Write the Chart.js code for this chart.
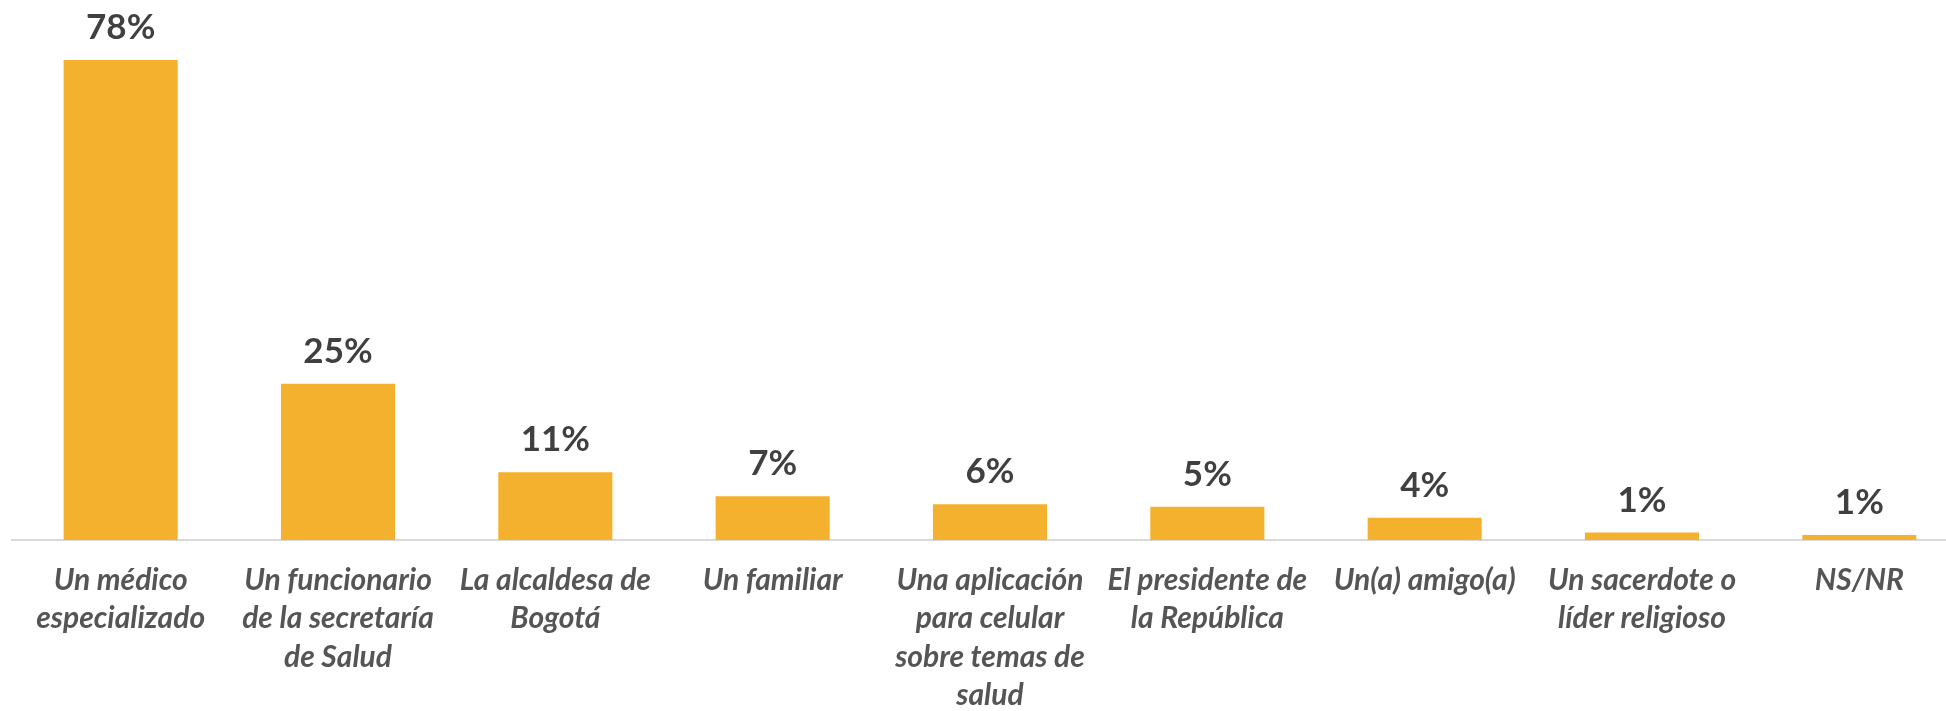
<!DOCTYPE html>
<html>
<head>
<meta charset="utf-8">
<script src="https://cdn.jsdelivr.net/npm/chart.js@4.4.0/dist/chart.umd.min.js"></script>
<style>
  html, body { margin: 0; padding: 0; background: #fff; overflow: hidden; }
  #wrap { width: 1968px; height: 711px; position: relative; }
</style>
</head>
<body>
<div id="wrap"><canvas id="bar-chart"></canvas></div>
<script>
var categories = [
    ["Un médico", "especializado"],
    ["Un funcionario", "de la secretaría", "de Salud"],
    ["La alcaldesa de", "Bogotá"],
    ["Un familiar"],
    ["Una aplicación", "para celular", "sobre temas de", "salud"],
    ["El presidente de", "la República"],
    ["Un(a) amigo(a)"],
    ["Un sacerdote o", "líder religioso"],
    ["NS/NR"]
];
var values = [78, 25.4, 11, 7.1, 5.8, 5.4, 3.6, 1.2, 0.8];

// value labels above each bar
var barLabels = {
    id: 'barLabels',
    afterDatasetsDraw: function(chart) {
        var ctx = chart.ctx;
        var meta = chart.getDatasetMeta(0);
        ctx.save();
        ctx.fillStyle = '#404040';
        ctx.font = 'bold 35px Lato';
        ctx.textAlign = 'center';
        ctx.textBaseline = 'alphabetic';
        meta.data.forEach(function(bar, i) {
            ctx.fillText(Math.round(values[i]) + '%', bar.x, bar.y - 21);
        });
        ctx.restore();
    }
};

new Chart(document.getElementById("bar-chart"), {
    type: 'bar',
    data: {
        labels: categories,
        datasets: [{
            backgroundColor: '#F4B12D',
            data: values,
            categoryPercentage: 1,
            barPercentage: 0.525
        }]
    },
    options: {
        responsive: true,
        maintainAspectRatio: false,
        animation: false,
        layout: { padding: { left: 12, right: 0, top: 20, bottom: 0 } },
        plugins: {
            legend: { display: false },
            title: { display: false },
            tooltip: { enabled: false }
        },
        scales: {
            y: {
                display: false,
                min: 0,
                max: 84.5
            },
            x: {
                grid: { display: false, drawTicks: false },
                border: { display: true, color: '#D9D9D9', width: 2 },
                ticks: {
                    color: '#555555',
                    font: { family: 'Lato', size: 30, style: 'italic', weight: 'bold', lineHeight: 1.283 },
                    padding: 21,
                    maxRotation: 0,
                    autoSkip: false
                },
                afterFit: function(scale) { scale.height = 171; }
            }
        }
    },
    plugins: [barLabels]
});
</script>
</body>
</html>
